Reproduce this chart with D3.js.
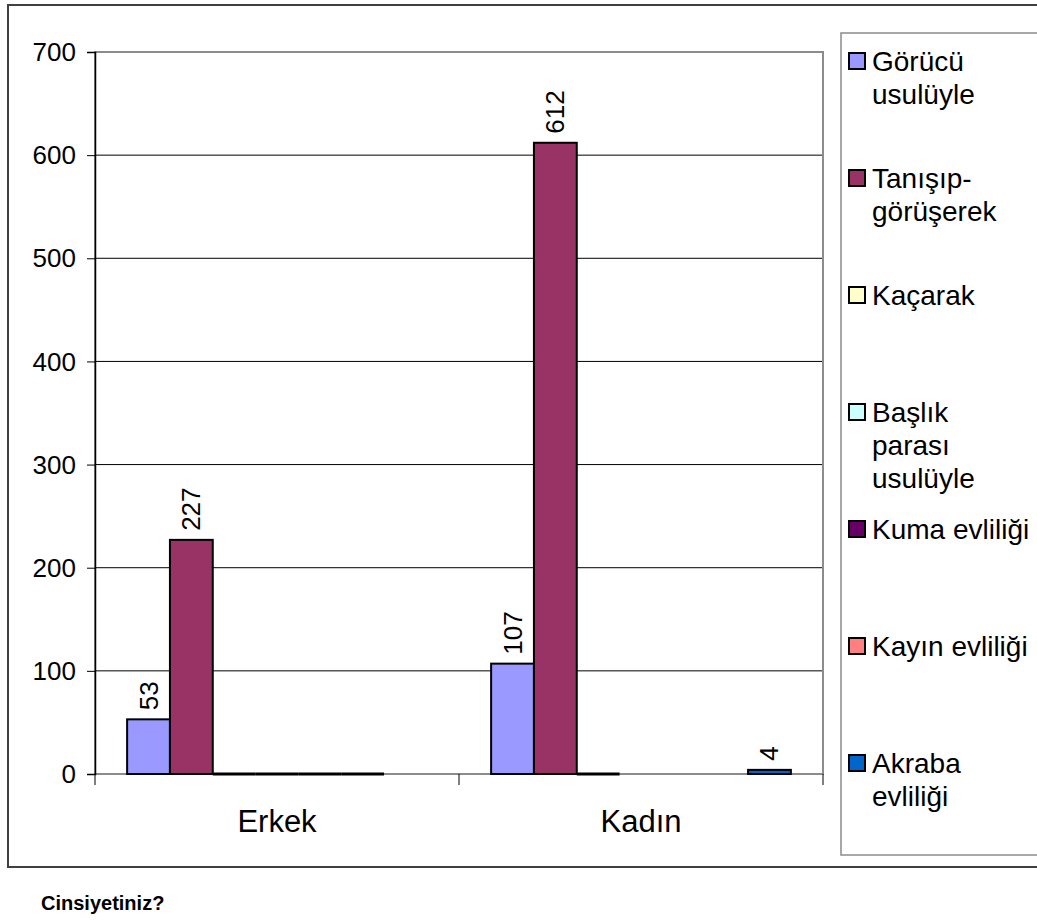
<!DOCTYPE html>
<html><head><meta charset="utf-8">
<script src="https://cdn.jsdelivr.net/npm/d3@7"></script>
<style>html,body{margin:0;padding:0;background:#fff;overflow:hidden}svg{display:block}text{font-family:Arial,"Liberation Sans",sans-serif;fill:#000}</style>
</head><body>
<svg id="c" width="1037" height="920"></svg>
<script>
const categories = ["Erkek", "Kadın"];
const seriesNames = ["Görücü usulüyle", "Tanışıp-görüşerek", "Kaçarak", "Başlık parası usulüyle", "Kuma evliliği", "Kayın evliliği", "Akraba evliliği"];
const legendLines = [["Görücü","usulüyle"],["Tanışıp-","görüşerek"],["Kaçarak"],["Başlık","parası","usulüyle"],["Kuma evliliği"],["Kayın evliliği"],["Akraba","evliliği"]];
const seriesColors = ["#9999FF", "#993366", "#FFFFCC", "#CCFFFF", "#660066", "#FF8080", "#0066CC"];
// values per series: [Erkek, Kadın]; null = no data
const goruculu = [53, 107];
const tanisip = [227, 612];
const kacarak = [0, 0];
const baslik = [0, null];
const kuma = [0, null];
const kayin = [0, null];
const akraba = [null, 4];
const seriesValues = [goruculu, tanisip, kacarak, baslik, kuma, kayin, akraba];
const yTicks = [0, 100, 200, 300, 400, 500, 600, 700];
const titleText = "Cinsiyetiniz?";

const svg = d3.select("#c");
const L = 95, R = 823, T = 52, B = 774;

// outer border
svg.append("rect").attr("x", 8).attr("y", 5).attr("width", 1100).attr("height", 862)
  .attr("fill", "none").attr("stroke", "#404040").attr("stroke-width", 2);

const y = d3.scaleLinear().domain([0, 700]).range([B, T]);
const x0 = d3.scaleBand().domain(categories).range([L, R]).paddingInner(0).paddingOuter(0);
const x1 = d3.scaleBand().domain(seriesNames).range([0, x0.bandwidth()]).paddingInner(0).paddingOuter(0.75);

// gridlines
svg.append("g").selectAll("line").data(yTicks.filter(d => d > 0)).join("line")
  .attr("x1", L).attr("x2", R).attr("y1", d => y(d)).attr("y2", d => y(d))
  .attr("stroke", "#000").attr("stroke-width", 1);

// plot border (gray)
svg.append("rect").attr("x", L).attr("y", T).attr("width", R - L).attr("height", B - T)
  .attr("fill", "none").attr("stroke", "#8c8c8c").attr("stroke-width", 2);

// x axis baseline
svg.append("line").attr("x1", L).attr("x2", R).attr("y1", B).attr("y2", B)
  .attr("stroke", "#8c8c8c").attr("stroke-width", 2);

// y axis
const yAxis = d3.axisLeft(y).tickValues(yTicks).tickSize(8).tickPadding(11);
const gy = svg.append("g").attr("transform", `translate(${L},0)`).call(yAxis);
gy.select(".domain").attr("stroke", "#000").attr("stroke-width", 1.5);
gy.selectAll(".tick line").attr("stroke", "#000").attr("stroke-width", 1);
gy.selectAll(".tick text").style("font-size", "26px").style("font-family", "Arial, 'Liberation Sans', sans-serif").attr("dy", "0.33em");

// bars
const gBars = svg.append("g");
categories.forEach((cat, ci) => {
  seriesNames.forEach((s, si) => {
    const v = seriesValues[si][ci];
    if (v === null) return;
    const bx = x0(cat) + x1(s);
    if (v === 0) {
      gBars.append("line").attr("x1", bx).attr("x2", bx + x1.bandwidth())
        .attr("y1", y(0)).attr("y2", y(0)).attr("stroke", "#000").attr("stroke-width", 3);
      return;
    }
    gBars.append("rect")
      .attr("x", bx).attr("y", y(v)).attr("width", x1.bandwidth()).attr("height", y(0) - y(v))
      .attr("fill", seriesColors[si]).attr("stroke", "#000").attr("stroke-width", 2);
  });
});

// x ticks and labels
const xTickPos = [L].concat(categories.map(c => x0(c) + x0.bandwidth()));
svg.append("g").selectAll("line").data(xTickPos).join("line")
  .attr("x1", d => d).attr("x2", d => d).attr("y1", B).attr("y2", B + 11)
  .attr("stroke", "#000").attr("stroke-width", 1);
svg.append("g").selectAll("text").data(categories).join("text")
  .attr("x", d => x0(d) + x0.bandwidth() / 2).attr("y", 832)
  .attr("text-anchor", "middle").style("font-size", "31px").text(d => d);

// data labels
const gLab = svg.append("g");
categories.forEach((cat, ci) => {
  seriesNames.forEach((s, si) => {
    const v = seriesValues[si][ci];
    if (v === null || v === 0) return;
    const cx = x0(cat) + x1(s) + x1.bandwidth() / 2;
    const ty = y(v) - 9;
    gLab.append("text")
      .attr("transform", `translate(${cx},${ty}) rotate(-90)`)
      .attr("text-anchor", "start").attr("dominant-baseline", "central")
      .style("font-size", "26px").text(v);
  });
});

// legend
svg.append("rect").attr("x", 841).attr("y", 33).attr("width", 300).attr("height", 822)
  .attr("fill", "#fff").attr("stroke", "#8c8c8c").attr("stroke-width", 1.5);
const legY = d3.scalePoint().domain(seriesNames).range([61, 763]);
seriesNames.forEach((s, si) => {
  const cy = legY(s);
  svg.append("rect").attr("x", 849).attr("y", cy - 8).attr("width", 16).attr("height", 16)
    .attr("fill", seriesColors[si]).attr("stroke", "#000").attr("stroke-width", 2);
  const t = svg.append("text").attr("x", 872).attr("y", cy + 10).style("font-size", "28px");
  legendLines[si].forEach((ln, li) => {
    t.append("tspan").attr("x", 872).attr("dy", li === 0 ? 0 : 33).text(ln);
  });
});

// title
svg.append("text").attr("x", 41).attr("y", 910).style("font-size", "20px").style("font-weight", "bold").text(titleText);
</script>
</body></html>
